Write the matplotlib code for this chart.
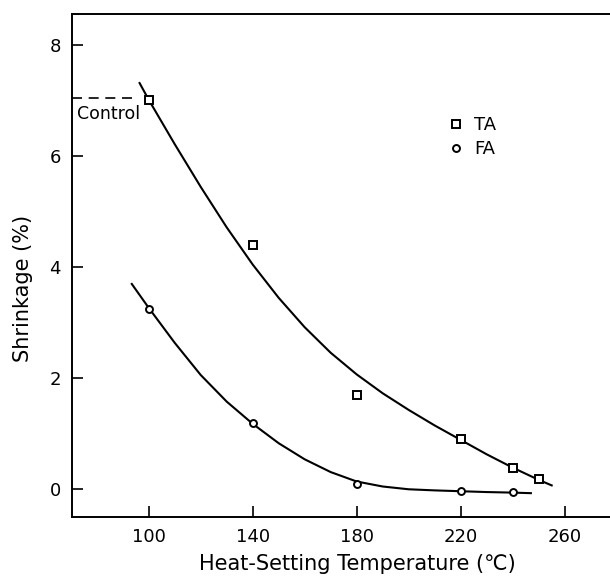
import numpy as np
import matplotlib
matplotlib.use('Agg')
import matplotlib.pyplot as plt

# Datos medidos
temp_ta = [100, 140, 180, 220, 240, 250]
shrink_ta = [7.02, 4.40, 1.69, 0.90, 0.38, 0.18]
temp_fa = [100, 140, 180, 220, 240]
shrink_fa = [3.24, 1.20, 0.09, -0.03, -0.05]

# Curvas dibujadas a mano
curve_ta_x = [96.5, 100, 110, 120, 130, 140, 150, 160, 170, 180, 190, 200, 210, 220, 230, 240, 250, 255]
curve_ta_y = [7.32, 7.02, 6.22, 5.45, 4.72, 4.05, 3.45, 2.92, 2.46, 2.07, 1.73, 1.43, 1.15, 0.89, 0.63, 0.39, 0.17, 0.07]
curve_fa_x = [93.5, 100, 110, 120, 130, 140, 150, 160, 170, 180, 190, 200, 210, 220, 230, 240, 247]
curve_fa_y = [3.70, 3.27, 2.64, 2.06, 1.58, 1.18, 0.83, 0.54, 0.31, 0.14, 0.05, 0.0, -0.02, -0.035, -0.05, -0.06, -0.07]

control_level = 7.05
xticks = [100, 140, 180, 220, 260]
yticks = [0, 2, 4, 6, 8]

plt.rcParams['font.family'] = 'DejaVu Sans'
fig = plt.figure(figsize=(6.1, 5.86), dpi=100)
ax = fig.add_axes([0.118, 0.1177, 0.9356, 0.858])

# Curvas
ax.plot(curve_ta_x, curve_ta_y, color='black', linewidth=1.5, solid_joinstyle='round')
ax.plot(curve_fa_x, curve_fa_y, color='black', linewidth=1.5, solid_joinstyle='round')

# Puntos
ax.plot(temp_ta, shrink_ta, linestyle='none', marker='s', markersize=6,
        markerfacecolor='white', markeredgecolor='black', markeredgewidth=1.4, label='TA')
ax.plot(temp_fa, shrink_fa, linestyle='none', marker='o', markersize=5,
        markerfacecolor='white', markeredgecolor='black', markeredgewidth=1.4, label='FA')

# Linea de control
ax.plot([70.5, 94.5], [control_level, control_level], color='black',
        linewidth=1.2, dashes=(6, 4))
ax.text(72.3, 6.77, 'Control', fontsize=12.5, va='center', ha='left')

ax.set_xlim(70.5, 290)
ax.set_ylim(-0.5, 8.56)
ax.set_xticks(xticks)
ax.set_yticks(yticks)
ax.tick_params(direction='in', length=8, width=1.2, labelsize=13, pad=8)
ax.spines['right'].set_visible(False)
for s in ['left', 'bottom', 'top']:
    ax.spines[s].set_linewidth(1.4)

ax.set_xlabel('Heat-Setting Temperature (℃)', fontsize=15, labelpad=6)
ax.set_ylabel('Shrinkage (%)', fontsize=15)
ax.yaxis.set_label_coords(-0.068, 0.455)

ax.legend(loc='upper left', bbox_to_anchor=(0.632, 0.83), frameon=False,
          handlelength=0.8, handletextpad=0.6, fontsize=13, labelspacing=0.35)

fig.savefig('out.png', dpi=100)
